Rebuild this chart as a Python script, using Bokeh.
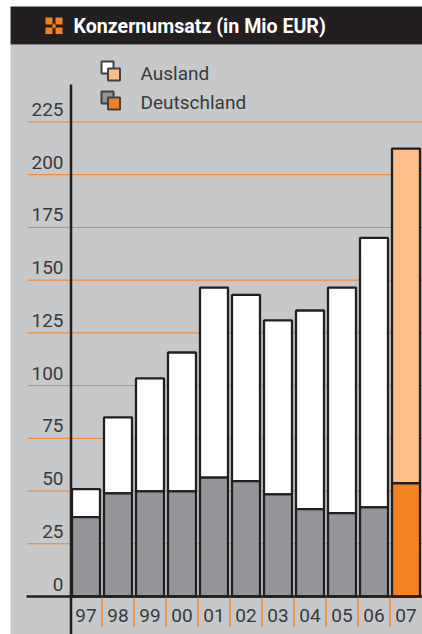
from bokeh.core.properties import value
from bokeh.embed import file_html
from bokeh.models import ColumnDataSource, Range1d
from bokeh.plotting import figure
from bokeh.resources import INLINE

# Konzernumsatz in Mio EUR, split by region
years = ["97", "98", "99", "00", "01", "02", "03", "04", "05", "06", "07"]
deutschland = [37.6, 48.9, 49.8, 49.8, 56.4, 54.7, 48.4, 41.4, 39.5, 42.3, 53.7]
gesamt = [50.9, 84.9, 103.4, 115.7, 146.5, 143.0, 130.9, 135.6, 146.5, 170.0, 212.4]
y_ticks = [0, 25, 50, 75, 100, 125, 150, 175, 200, 225]
title = "Konzernumsatz (in Mio EUR)"
legend_labels = ["Ausland", "Deutschland"]

W, H = 422, 634
INK = "#231f20"
PANEL = "#c6c8ca"
GREY = "#939598"
ORANGE = "#f58220"
PEACH = "#fdbe87"
TEXT = "#3a3a3c"
FONT = "Roboto"
TEXT_LIFT = 7.0  # text sits this many px lower than its anchor in the svg backend

# Category slots are 32 px apart, value axis is 2.109 px per Mio EUR with zero at y=596
SLOT = 32.0
X0 = 85.5
PX_PER_UNIT = 2.109
Y0 = 596.0


def dx(px):
    return (px - X0) / SLOT


def dy(px):
    return (Y0 - px) / PX_PER_UNIT


p = figure(width=W, height=H, output_backend="svg", toolbar_location=None,
           min_border=0, outline_line_color=None, background_fill_color="white",
           border_fill_color="white",
           x_range=Range1d(dx(0), dx(W)), y_range=Range1d(dy(H), dy(0)))
p.xaxis.visible = False
p.yaxis.visible = False
p.grid.visible = False

# Panel and title band
p.quad(left=dx(10), right=dx(W), top=dy(44), bottom=dy(H), color=PANEL, line_color=None)
p.quad(left=dx(10), right=dx(W), top=dy(6), bottom=dy(44), color=INK, line_color=None)

# Orange gridlines behind the bars
grid_vals = [v for v in y_ticks if v > 0]
p.segment(x0=[dx(27)] * len(grid_vals), x1=[dx(W)] * len(grid_vals), y0=grid_vals, y1=grid_vals,
          line_color=ORANGE, line_width=1)

# Stacked bars, the last year in orange tones
idx = list(range(len(years)))
lower_colors = [GREY] * (len(years) - 1) + [ORANGE]
upper_colors = ["white"] * (len(years) - 1) + [PEACH]
bars = ColumnDataSource(dict(x=idx, d=deutschland, g=gesamt, lc=lower_colors, uc=upper_colors))
bar_w = 28 / SLOT
p.vbar(x="x", width=bar_w, bottom="d", top="g", fill_color="uc", line_color=INK, line_width=2.3, source=bars)
p.vbar(x="x", width=bar_w, bottom=0, top="d", fill_color="lc", line_color=INK, line_width=2.3, source=bars)

# Separators between the year labels
sep = [i + 0.5 for i in idx[:-1]]
p.segment(x0=sep, x1=sep, y0=[dy(597)] * len(sep), y1=[dy(626)] * len(sep), line_color=ORANGE, line_width=1.5)

# Axis lines
p.segment(x0=[dx(26)], x1=[dx(W)], y0=[0], y1=[0], line_color=INK, line_width=2.5)
p.segment(x0=[dx(70.5)], x1=[dx(70.5)], y0=[dy(84)], y1=[dy(H)], line_color=INK, line_width=2.5)

# Value and year labels
p.text(x=[dx(63)] * len(y_ticks), y=[v + (5.5 + TEXT_LIFT) / PX_PER_UNIT for v in y_ticks],
       text=[str(v) for v in y_ticks], text_font=value(FONT), text_font_size="19px", text_color=TEXT,
       text_align="right", text_baseline="alphabetic")
p.text(x=idx, y=[dy(621.5 - TEXT_LIFT)] * len(idx), text=years, text_font=value(FONT), text_font_size="19px",
       text_color=TEXT, text_align="center", text_baseline="alphabetic")

# Title with its mark
p.text(x=[dx(73)], y=[dy(33 - TEXT_LIFT)], text=[title], text_font=value(FONT), text_font_style="bold",
       text_font_size="19.6px", text_color="white", text_align="left", text_baseline="alphabetic")
p.quad(left=[dx(45), dx(55), dx(45), dx(55)], right=[dx(52), dx(62), dx(52), dx(62)],
       top=[dy(17), dy(17), dy(27), dy(27)], bottom=[dy(24), dy(24), dy(33.5), dy(33.5)],
       color=ORANGE, line_color=None)
p.scatter(x=[dx(53.5)], y=[dy(25.5)], marker="diamond", size=6, color=ORANGE, line_color=None)

# Legend
p.quad(left=[dx(101), dx(101)], right=[dx(113), dx(113)], top=[dy(61), dy(91)], bottom=[dy(73), dy(103)],
       fill_color=["white", GREY], line_color=["#414042", "#414042"], line_width=2)
p.quad(left=[dx(107.5), dx(107.5)], right=[dx(119.5), dx(119.5)], top=[dy(68), dy(97)], bottom=[dy(80), dy(109)],
       fill_color=[PEACH, ORANGE], line_color=["#414042", "#414042"], line_width=2)
p.text(x=[dx(140)] * 2, y=[dy(80 - TEXT_LIFT), dy(109 - TEXT_LIFT)], text=legend_labels, text_font=value(FONT),
       text_font_size="19px", text_color=TEXT, text_align="left", text_baseline="alphabetic")

open("out.html", "w").write(file_html(p, INLINE))
